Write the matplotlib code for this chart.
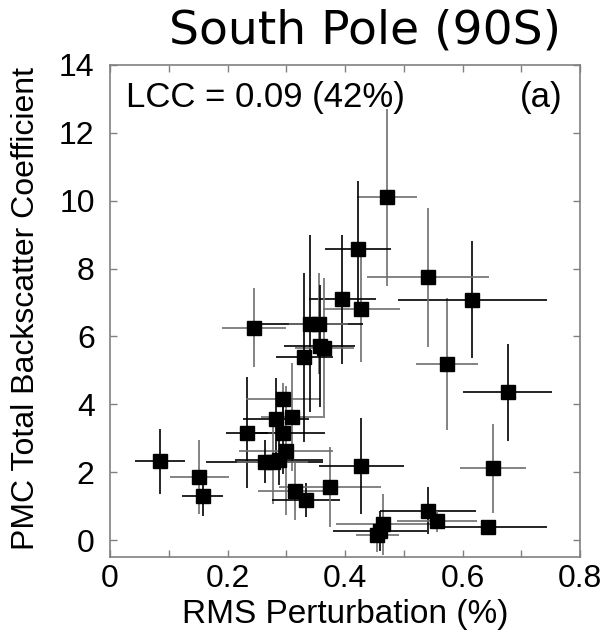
import matplotlib
matplotlib.use("Agg")
import matplotlib.pyplot as plt
import numpy as np

# ---- data ----
rms = [0.085, 0.152, 0.158, 0.245, 0.233, 0.295, 0.282, 0.310, 0.294, 0.300,
       0.263, 0.277, 0.288, 0.315, 0.334, 0.375, 0.428, 0.464, 0.459, 0.455,
       0.541, 0.557, 0.644, 0.652, 0.677, 0.574, 0.617, 0.428, 0.395, 0.472,
       0.4225, 0.541, 0.341, 0.355, 0.357, 0.365, 0.331]
pmc = [2.32, 1.86, 1.30, 6.26, 3.16, 4.17, 3.58, 3.63, 3.16, 2.63,
       2.31, 2.31, 2.36, 1.45, 1.18, 1.56, 2.19, 0.47, 0.27, 0.15,
       0.87, 0.55, 0.37, 2.11, 4.35, 5.18, 7.08, 6.82, 7.10, 10.10,
       8.58, 7.75, 6.38, 6.38, 5.71, 5.66, 5.38]
rms_err = [0.042, 0.050, 0.035, 0.055, 0.036, 0.063, 0.056, 0.053, 0.072, 0.080,
           0.100, 0.060, 0.075, 0.063, 0.058, 0.087, 0.073, 0.080, 0.080, 0.037,
           0.082, 0.068, 0.100, 0.056, 0.076, 0.053, 0.126, 0.065, 0.057, 0.051,
           0.056, 0.104, 0.090, 0.050, 0.060, 0.050, 0.048]
pmc_err = [0.95, 1.10, 0.60, 1.16, 1.64, 0.45, 1.20, 1.60, 1.20, 1.90,
           0.64, 1.25, 0.75, 0.85, 0.50, 1.17, 1.42, 0.90, 0.60, 0.50,
           0.70, 0.30, 0.20, 1.30, 1.44, 1.95, 1.72, 1.57, 1.90, 2.60,
           2.00, 2.05, 2.60, 1.50, 1.80, 2.05, 2.50]

x_ticks = [0, 0.1, 0.2, 0.3, 0.4, 0.5, 0.6, 0.7, 0.8]
x_ticklabels = ["0", "", "0.2", "", "0.4", "", "0.6", "", "0.8"]
y_ticks = [0, 2, 4, 6, 8, 10, 12, 14]

title = "South Pole (90S)"
xlabel = "RMS Perturbation (%)"
ylabel = "PMC Total Backscatter Coefficient"
lcc_text = "LCC = 0.09 (42%)"
panel = "(a)"

# ---- figure ----
W, H = 607, 632
fig = plt.figure(figsize=(W / 100, H / 100), dpi=100)
ax = fig.add_axes([110 / W, 1 - 557 / H, (580 - 110) / W, (557 - 65) / H])

sans = ["Liberation Sans", "DejaVu Sans"]
colors = ["black", "#6e6e6e"]
for i in range(len(rms)):
    ax.errorbar(rms[i], pmc[i], xerr=rms_err[i], yerr=pmc_err[i], fmt="none",
                ecolor=colors[i % 2], elinewidth=1.2, capsize=0, zorder=2)
ax.plot(rms, pmc, linestyle="none", marker="s", markersize=9.5,
        markerfacecolor="black", markeredgecolor="black", zorder=3)

ax.set_xlim(0, 0.8)
ax.set_ylim(-0.5, 14)
ax.set_xticks(x_ticks)
ax.set_xticklabels(x_ticklabels)
ax.set_yticks(y_ticks)
ax.set_yticklabels([str(v) for v in y_ticks])
ax.tick_params(direction="in", length=5, width=1, color="#808080",
               top=True, right=True, labelsize=23)
ax.tick_params(axis="y", pad=11)
ax.tick_params(axis="x", pad=5)
for lab in ax.get_xticklabels() + ax.get_yticklabels():
    lab.set_family(sans)
for s in ax.spines.values():
    s.set_color("#808080")
    s.set_linewidth(1.2)

ax.text(0.035, 0.968, lcc_text, transform=ax.transAxes, ha="left", va="top",
        fontsize=25, family=sans)
ax.text(0.962, 0.968, panel, transform=ax.transAxes, ha="right", va="top",
        fontsize=25, family=sans)

fig.text(365 / W, 1 - 43 / H, title, ha="center", va="baseline",
         fontsize=34, family=["DejaVu Sans"])
fig.text(345 / W, 1 - 623 / H, xlabel, ha="center", va="baseline",
         fontsize=24, family=sans)
fig.text(26 / W, 1 - 308 / H, ylabel, ha="center", va="center",
         rotation=90, fontsize=23, family=sans)

fig.savefig("out.png", dpi=100)
